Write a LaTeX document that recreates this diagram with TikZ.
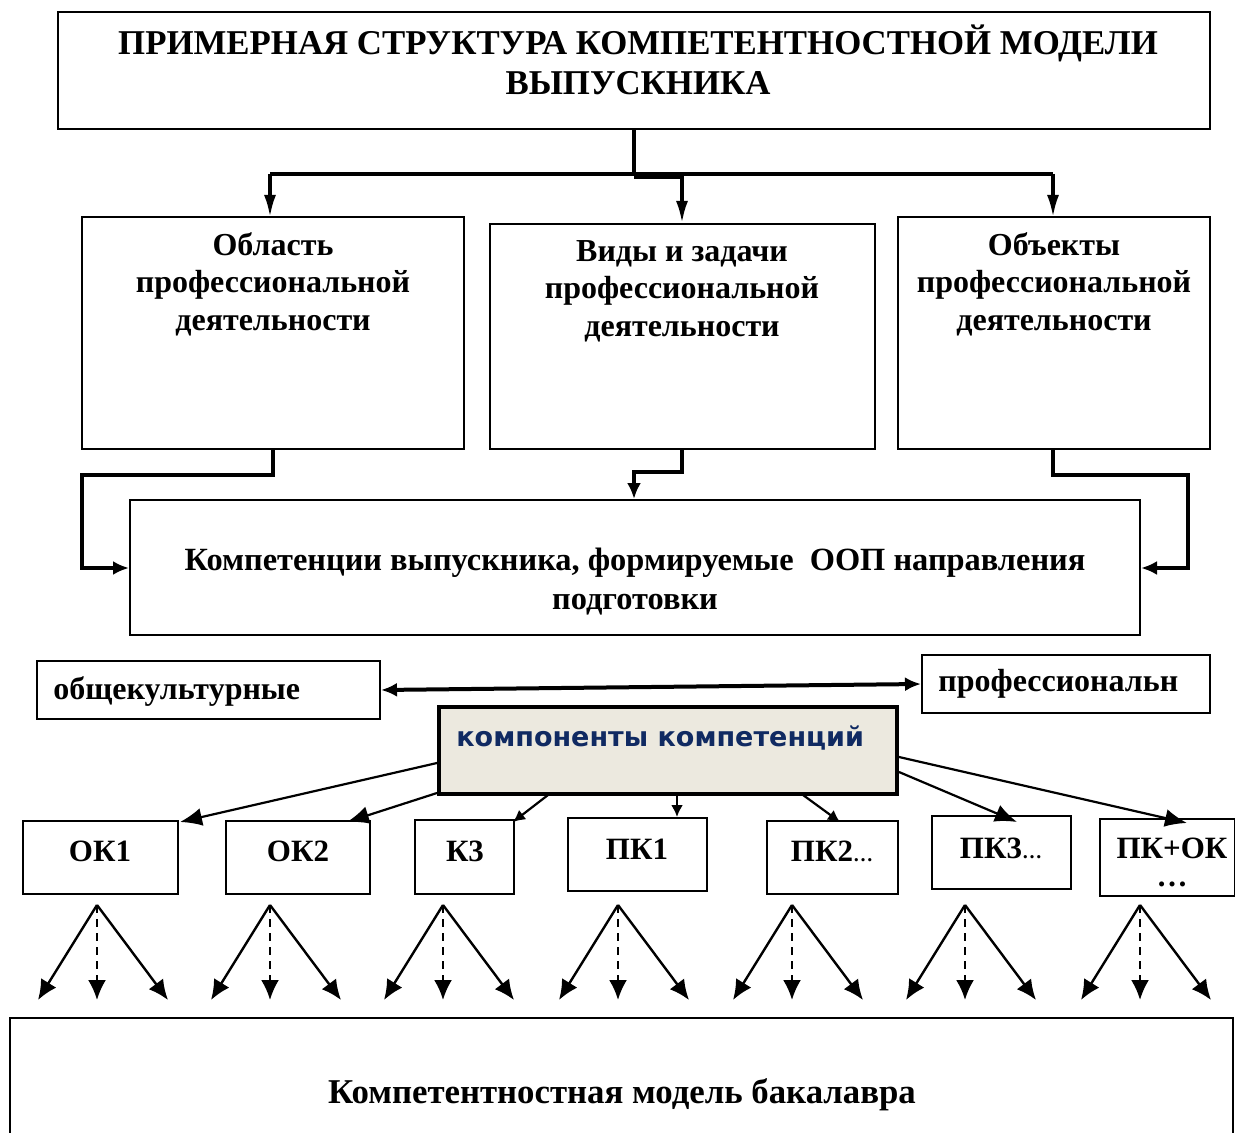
\documentclass[tikz,border=0pt]{standalone}
\usepackage{fontspec}
\setmainfont{Liberation Serif}
\newfontfamily\compfont{DejaVu Sans}
\usetikzlibrary{arrows.meta,fit}
\definecolor{beige}{HTML}{ECE9DF}
\definecolor{navy}{HTML}{102A62}
\begin{document}
\begin{tikzpicture}[x=0.5pt,y=-0.5pt,
  frame/.style={draw, line width=1pt, inner sep=0pt},
  txt/.style={font=\bfseries\fontsize{16}{18.75}\selectfont, align=center, inner sep=0pt},
  conn/.style={line width=1.6pt},
  arr/.style={line width=1.6pt, -{Latex[length=11pt,width=6pt]}},
  sidearr/.style={line width=1.8pt, -{Latex[length=8pt,width=7pt]}},
  thin arr/.style={line width=1.1pt, -{Latex[length=11pt,width=9pt]}},
  short arr/.style={line width=1.1pt, -{Latex[length=6pt,width=6pt]}},
  dbl/.style={line width=2pt, {Latex[length=8pt,width=7pt]}-{Latex[length=8pt,width=7pt]}},
  fanarr/.style={line width=1.2pt, -{Latex[length=10pt,width=9pt]}},
  fandash/.style={fanarr, dash pattern=on 4pt off 3pt}
]
\useasboundingbox (0,0) rectangle (1235,1133);
\fill[white] (0,0) rectangle (1235,1133);

% title
\node[frame, fit={(58,12) (1210,129)}] (title) {};
\node[txt, font=\bfseries\fontsize{17.4}{20}\selectfont] (titletext) at (638,60) {ПРИМЕРНАЯ СТРУКТУРА КОМПЕТЕНТНОСТНОЙ МОДЕЛИ\\ВЫПУСКНИКА};

% three boxes
\node[frame, fit={(82,217) (464,449)}] (b1) {};
\node[frame, fit={(490,224) (875,449)}] (b2) {};
\node[frame, fit={(898,217) (1210,449)}] (b3) {};
\node[txt] (b1t) at (273,284) {Область\\профессиональной\\деятельности};
\node[txt] (b2t) at (682,291) {Виды и задачи\\профессиональной\\деятельности};
\node[txt] (b3t) at (1054,284) {Объекты\\профессиональной\\деятельности};

\coordinate (split) at (634,174);
\draw[conn] (title.south) -- (split);
\draw[line width=2.2pt] (270,174) -- (1053,174);
\draw[line width=3pt] (634,176) -- (682,176);
\draw[arr] (270,174) -- (270,217);
\draw[arr] (682,174) -- (b2.north -| 682,0);
\draw[arr] (1053,174) -- (1053,217);

% competencies box
\node[frame, fit={(130,500) (1140,635)}] (comp) {};
\node[txt, font=\bfseries\fontsize{16.2}{19.5}\selectfont] (compt) at (635,582) {Компетенции выпускника, формируемые \ ООП направления\\подготовки};

\draw[sidearr] (273,449) -- (273,475) -- (82,475) -- (82,568) -- (comp.west |- 0,568);
\draw[sidearr] (682,449) -- (682,472) -- (634,472) -- (comp.north -| 634,0);
\draw[sidearr] (1053,449) -- (1053,475) -- (1188,475) -- (1188,568) -- (comp.east |- 0,568);

% general / professional
\node[frame, fit={(37,661) (380,719)}] (ok) {};
\node[txt, anchor=west] (okt) at (53,691) {общекультурные};
\node[frame, fit={(922,655) (1210,713)}] (pk) {};
\node[txt, anchor=west] (pkt) at (938,684) {профессиональн};
\draw[dbl] (ok.east |- 0,690) -- (pk.west |- 0,684);

% components box
\node[draw, line width=2pt, fill=beige, inner sep=0pt, fit={(439,707) (897,794)}] (cc) {};
\node[inner sep=0pt, anchor=west, text=navy, font=\compfont\bfseries\fontsize{13.5}{15}\selectfont] (cct) at (456,738) {компоненты компетенций};

% small boxes
\node[frame, fit={(23,821) (178,894)}] (s1) {};
\node[frame, fit={(226,821) (370,894)}] (s2) {};
\node[frame, fit={(415,820) (514,894)}] (s3) {};
\node[frame, fit={(568,818) (707,891)}] (s4) {};
\node[frame, fit={(767,821) (898,894)}] (s5) {};
\node[frame, fit={(932,816) (1071,889)}] (s6) {};
\node[frame, fit={(1100,819) (1235,896)}] (s7) {};
\node[txt, font=\bfseries\fontsize{15.5}{18}\selectfont] (s1t) at (100,851) {ОК1};
\node[txt, font=\bfseries\fontsize{15.5}{18}\selectfont] (s2t) at (298,851) {ОК2};
\node[txt, font=\bfseries\fontsize{15.5}{18}\selectfont] (s3t) at (465,851) {К3};
\node[txt, font=\bfseries\fontsize{15.5}{18}\selectfont] (s4t) at (637,849) {ПК1};
\node[txt, font=\bfseries\fontsize{15.5}{18}\selectfont] (s5t) at (832,851) {ПК2{\fontsize{10}{12}\selectfont…}};
\node[txt, font=\bfseries\fontsize{15.5}{18}\selectfont] (s6t) at (1001,848) {ПК3{\fontsize{10}{12}\selectfont…}};
\node[txt, font=\bfseries\fontsize{15.5}{18}\selectfont] (s7t) at (1172,848) {ПК+ОК};
\node[txt, font=\bfseries\fontsize{15.5}{18}\selectfont] (s7d) at (1172,884) {…};

\draw[thin arr] (cc.west |- 0,763) -- (180,822);
\draw[thin arr] (cc.west |- 0,793) -- (347,822);
\draw[short arr] (548,795) -- (513,822);
\draw[short arr] (677,795) -- (s4.north -| 677,0);
\draw[short arr] (803,795) -- (840,822);
\draw[thin arr] (cc.east |- 0,772) -- (1017,822);
\draw[thin arr] (cc.east |- 0,757) -- (1187,823);

% fans
\foreach \a [count=\i] in {97,270,443,618,792,965,1140}{
  \coordinate (apex\i) at (\a,905);
  \coordinate (l\i) at ({\a-59},1000);
  \coordinate (m\i) at (\a,1000);
  \coordinate (r\i) at ({\a+71},1000);
  \draw[fanarr] (apex\i) -- (l\i);
  \draw[fandash] (apex\i) -- (m\i);
  \draw[fanarr] (apex\i) -- (r\i);
}

% bottom
\node[frame, fit={(10,1018) (1233,1160)}] (bot) {};
\node[txt, font=\bfseries\fontsize{17.4}{19}\selectfont] (bott) at (622,1095) {Компетентностная модель бакалавра};
\end{tikzpicture}
\end{document}
